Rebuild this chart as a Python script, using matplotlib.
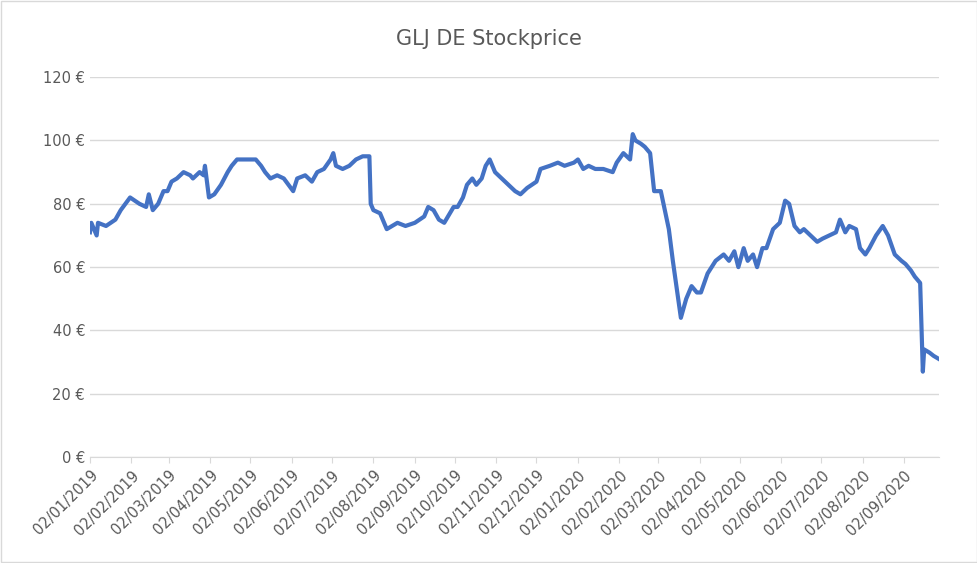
import matplotlib
matplotlib.use("Agg")
import matplotlib.pyplot as plt
import matplotlib.dates as mdates
import pandas as pd

dates = ["2019-01-02","2019-01-03","2019-01-07","2019-01-08","2019-01-14","2019-01-21","2019-01-25","2019-02-01","2019-02-08","2019-02-13","2019-02-15","2019-02-18","2019-02-22","2019-02-26","2019-03-01","2019-03-04","2019-03-08","2019-03-13","2019-03-18","2019-03-20","2019-03-25","2019-03-28","2019-03-29","2019-04-01","2019-04-05","2019-04-10","2019-04-15","2019-04-18","2019-04-22","2019-04-29","2019-05-06","2019-05-10","2019-05-13","2019-05-17","2019-05-22","2019-05-27","2019-06-03","2019-06-06","2019-06-12","2019-06-17","2019-06-21","2019-06-26","2019-07-01","2019-07-03","2019-07-05","2019-07-10","2019-07-15","2019-07-20","2019-07-25","2019-07-30","2019-07-31","2019-08-02","2019-08-07","2019-08-12","2019-08-16","2019-08-20","2019-08-26","2019-09-02","2019-09-09","2019-09-12","2019-09-16","2019-09-20","2019-09-24","2019-10-01","2019-10-04","2019-10-08","2019-10-11","2019-10-15","2019-10-18","2019-10-22","2019-10-25","2019-10-28","2019-11-01","2019-11-06","2019-11-11","2019-11-16","2019-11-20","2019-11-25","2019-12-02","2019-12-05","2019-12-12","2019-12-18","2019-12-23","2019-12-30","2020-01-02","2020-01-06","2020-01-10","2020-01-15","2020-01-21","2020-01-28","2020-01-31","2020-02-05","2020-02-10","2020-02-12","2020-02-14","2020-02-18","2020-02-21","2020-02-25","2020-02-28","2020-03-04","2020-03-06","2020-03-10","2020-03-13","2020-03-17","2020-03-19","2020-03-23","2020-03-27","2020-03-31","2020-04-03","2020-04-08","2020-04-14","2020-04-20","2020-04-24","2020-04-28","2020-05-01","2020-05-05","2020-05-08","2020-05-12","2020-05-15","2020-05-19","2020-05-22","2020-05-27","2020-06-01","2020-06-05","2020-06-08","2020-06-12","2020-06-16","2020-06-19","2020-06-24","2020-06-29","2020-07-03","2020-07-08","2020-07-13","2020-07-16","2020-07-20","2020-07-23","2020-07-28","2020-07-31","2020-08-04","2020-08-07","2020-08-12","2020-08-17","2020-08-21","2020-08-26","2020-08-31","2020-09-03","2020-09-07","2020-09-10","2020-09-14","2020-09-16","2020-09-17","2020-09-21","2020-09-24","2020-09-28"]
prices = [71,74,70,74,73,75,78,82,80,79,83,78,80,84,84,87,88,90,89,88,90,89,92,82,83,86,90,92,94,94,94,92,90,88,89,88,84,88,89,87,90,91,94,96,92,91,92,94,95,95,80,78,77,72,73,74,73,74,76,79,78,75,74,79,79,82,86,88,86,88,92,94,90,88,86,84,83,85,87,91,92,93,92,93,94,91,92,91,91,90,93,96,94,102,100,99,98,96,84,84,80,72,62,50,44,50,54,52,52,58,62,64,62,65,60,66,62,64,60,66,66,72,74,81,80,73,71,72,70,68,69,70,71,75,71,73,72,66,64,66,70,73,70,64,62,61,59,57,55,27,34,33,32,31]
tick_dates = pd.date_range("2019-01-01", "2020-09-01", freq="MS") + pd.Timedelta(days=1)
yticks = [0, 20, 40, 60, 80, 100, 120]

x = pd.to_datetime(dates)
fig = plt.figure(figsize=(9.78, 5.63), dpi=100)
ax = fig.add_axes([0.092, 0.188, 0.868, 0.675])
ax.plot(x, prices, color="#4472C4", lw=3, solid_joinstyle="round")
ax.set_ylim(0, 120)
ax.set_yticks(yticks)
ax.set_yticklabels([f"{v} €" for v in yticks])
ax.set_xlim(pd.Timestamp("2019-01-02"), pd.Timestamp("2020-09-28"))
ax.set_xticks(tick_dates)
ax.xaxis.set_major_formatter(mdates.DateFormatter("%d/%m/%Y"))
plt.setp(ax.get_xticklabels(), rotation=45, ha="right", rotation_mode="anchor")
ax.tick_params(colors="#595959", labelsize=10.5, length=0)
ax.tick_params(axis="x", length=4, color="#D9D9D9")
ax.grid(axis="y", color="#D9D9D9", lw=1)
for s in ["top", "right", "left"]:
    ax.spines[s].set_visible(False)
ax.spines["bottom"].set_color("#D9D9D9")
ax.set_axisbelow(True)
fig.text(0.5, 0.93, "GLJ DE Stockprice", ha="center", va="center", fontsize=15, color="#595959")
fig.patches.append(plt.Rectangle((0.001, 0.001), 0.998, 0.998, transform=fig.transFigure, fill=False, edgecolor="#D9D9D9", lw=1))
fig.savefig("out.png", dpi=100)
